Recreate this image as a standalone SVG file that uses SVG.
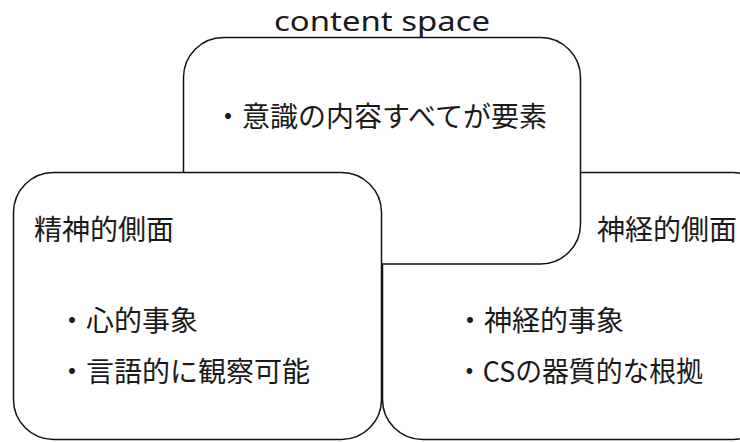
<svg xmlns="http://www.w3.org/2000/svg" width="740" height="442" viewBox="0 0 740 442">
<style>
.box{fill:#fff;stroke:#111;stroke-width:1.5}
.t{font-family:"Noto Sans CJK JP","Noto Sans",sans-serif;font-size:28px;fill:#1a1a1a}
.title{font-family:"Noto Sans","Noto Sans CJK JP",sans-serif;font-size:27px;fill:#1a1a1a}
</style>
<rect width="740" height="442" fill="#fff"/>
<text class="title" x="382" y="31" text-anchor="middle" textLength="216" lengthAdjust="spacingAndGlyphs">content space</text>
<g id="neural">
<rect class="box" x="382.5" y="172.5" width="390" height="267" rx="40"/>
<text class="t" x="597" y="240">神経的側面</text>
<text class="t" x="456" y="331">・神経的事象</text>
<text class="t" x="456" y="382" textLength="247" lengthAdjust="spacingAndGlyphs">・CSの器質的な根拠</text>
</g>
<g id="content">
<rect class="box" x="183.5" y="37.5" width="397" height="226.5" rx="40"/>
<text class="t" x="214" y="127">・意識の内容すべてが要素</text>
</g>
<g id="mental">
<rect class="box" x="13.5" y="172.5" width="368" height="267" rx="40"/>
<text class="t" x="34" y="240">精神的側面</text>
<text class="t" x="58" y="331">・心的事象</text>
<text class="t" x="58" y="382">・言語的に観察可能</text>
</g>
<g id="connectors"></g>
</svg>
